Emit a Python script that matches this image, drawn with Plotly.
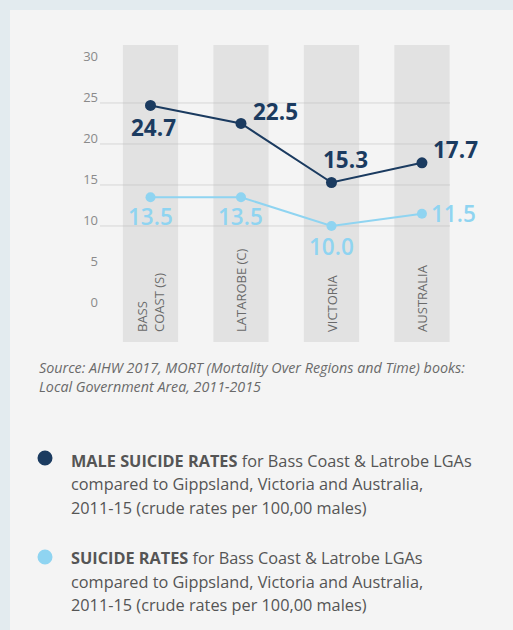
import plotly.graph_objects as go

# ---- data ----
categories = ["BASS<br>COAST (S)", "LATAROBE (C)", "VICTORIA", "AUSTRALIA"]
male_rates = [24.7, 22.5, 15.3, 17.7]
all_rates = [13.5, 13.5, 10.0, 11.5]
y_ticks = [0, 5, 10, 15, 20, 25, 30]
grid_vals = [10, 15, 20, 25]

source_lines = [
    "Source: AIHW 2017, MORT (Mortality Over Regions and Time) books:",
    "Local Government Area, 2011-2015",
]
legend_male = [
    "<b>MALE SUICIDE RATES</b> for Bass Coast & Latrobe LGAs",
    "compared to Gippsland, Victoria and Australia,",
    "2011-15 (crude rates per 100,00 males)",
]
legend_all = [
    "<b>SUICIDE RATES</b> for Bass Coast & Latrobe LGAs",
    "compared to Gippsland, Victoria and Australia,",
    "2011-15 (crude rates per 100,00 males)",
]

# ---- style ----
W, H = 513, 630
L, R, T, B = 103, 450, 45, 342
DARK = "#1b3b60"
LIGHT = "#8fd4f1"
FONT = "Open Sans"
y_range = [-4.15, 32.07]
x_range = [-0.525, 3.31]

def fx(p):
    return (p - L) / (R - L)

def fy(p):
    return (B - p) / (B - T)

fig = go.Figure()

# background columns
fig.add_trace(go.Bar(
    x=categories, y=[y_range[1] - y_range[0]] * len(categories), base=y_range[0],
    width=0.61, marker=dict(color="rgba(185,185,185,0.3)", line=dict(width=0)),
    hoverinfo="skip", showlegend=False,
))

fig.add_trace(go.Scatter(
    x=categories, y=all_rates, mode="lines+markers",
    line=dict(color=LIGHT, width=2), marker=dict(color=LIGHT, size=10),
    showlegend=False, cliponaxis=False,
))
fig.add_trace(go.Scatter(
    x=categories, y=male_rates, mode="lines+markers",
    line=dict(color=DARK, width=2), marker=dict(color=DARK, size=11),
    showlegend=False, cliponaxis=False,
))

shapes = []
# soft left-to-right lightening of the panel
for k in range(8):
    shapes.append(dict(type="rect", xref="paper", yref="paper", x0=fx(120 + 45 * k), x1=fx(W),
                       y0=fy(H), y1=fy(10), fillcolor="rgba(255,255,255,0.07)",
                       line=dict(width=0), layer="below"))
# frame strips
shapes.append(dict(type="rect", xref="paper", yref="paper", x0=fx(0), x1=fx(W), y0=fy(10), y1=fy(0),
                   fillcolor="#e3ebef", line=dict(width=0), layer="below"))
shapes.append(dict(type="rect", xref="paper", yref="paper", x0=fx(0), x1=fx(10), y0=fy(H), y1=fy(0),
                   fillcolor="#e3ebef", line=dict(width=0), layer="below"))
for g in grid_vals:
    shapes.append(dict(type="line", xref="paper", yref="y", x0=fx(100), x1=1, y0=g, y1=g,
                       line=dict(color="#d6d6d6", width=1), layer="below"))
# legend dots
for cy, col in [(458, DARK), (557, LIGHT)]:
    shapes.append(dict(type="circle", xref="paper", yref="paper", xsizemode="pixel", ysizemode="pixel",
                       xanchor=fx(45), yanchor=fy(cy), x0=-7.5, x1=7.5, y0=-7.5, y1=7.5,
                       fillcolor=col, line=dict(width=0)))

ann = []
male_off = [(3, -22), (35, 12), (14, 23), (34, 13)]
all_off = [(0, -19), (0, -19), (0, -21), (32, 0)]
for c, v, (dx, dy) in zip(categories, male_rates, male_off):
    ann.append(dict(x=c, y=v, xref="x", yref="y", text=f"<b>{v:.1f}</b>", showarrow=False,
                    xshift=dx, yshift=dy, font=dict(family=FONT, size=22.5, color=DARK)))
for c, v, (dx, dy) in zip(categories, all_rates, all_off):
    ann.append(dict(x=c, y=v, xref="x", yref="y", text=f"{v:.1f}", showarrow=False,
                    xshift=dx, yshift=dy, font=dict(family=FONT, size=22.5, color=LIGHT, weight=600)))
for c in categories:
    ann.append(dict(x=c, y=fy(334), xref="x", yref="paper", text=c, textangle=-90, showarrow=False,
                    xanchor="center", yanchor="bottom", align="left",
                    font=dict(family=FONT, size=13, color="#6a6a6a")))
ann.append(dict(x=fx(37), y=fy(376.5), xref="paper", yref="paper",
                text="<br>".join(f"<i>{s}</i>" for s in source_lines),
                showarrow=False, xanchor="left", yanchor="middle", align="left",
                font=dict(family=FONT, size=14.3, color="#6a6a6a")))
for top, lines in [(461, legend_male), (558, legend_all)]:
    for i, line in enumerate(lines):
        ann.append(dict(x=fx(69), y=fy(top + 23.5 * i), xref="paper", yref="paper", text=line,
                        showarrow=False, xanchor="left", yanchor="middle",
                        font=dict(family=FONT, size=16.3, color="#555555")))

fig.update_layout(
    width=W, height=H,
    margin=dict(l=L, r=W - R, t=T, b=H - B, pad=0),
    paper_bgcolor="#f4f4f4", plot_bgcolor="rgba(0,0,0,0)",
    showlegend=False, shapes=shapes, annotations=ann,
    xaxis=dict(type="category", range=x_range, showticklabels=False, showgrid=False,
               zeroline=False, showline=False, fixedrange=True),
    yaxis=dict(range=y_range, tickvals=y_ticks, showgrid=False, zeroline=False, showline=False,
               ticks="", ticklabelshift=-6, ticklabelstandoff=4,
               tickfont=dict(family=FONT, size=13, color="#8a8a8a")),
    font=dict(family=FONT),
)

fig.write_html(
    "out.html",
    config={"displayModeBar": False},
    post_script="document.body.style.margin='0';document.body.style.padding='0';"
                "document.body.style.overflow='hidden';",
)
